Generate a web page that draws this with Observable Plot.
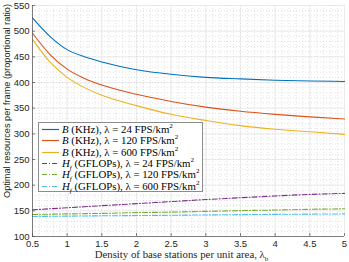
<!DOCTYPE html>
<html><head><meta charset="utf-8">
<script src="https://cdn.jsdelivr.net/npm/d3@7"></script>
<script src="https://cdn.jsdelivr.net/npm/@observablehq/plot@0.6"></script>
<style>
body{margin:0;background:#fff}
#wrap{position:relative;width:349px;height:262px;overflow:hidden}
#leg{position:absolute;left:38px;top:122px;width:165px;height:70px;border:1px solid #8c8c8c;background:#fff;box-sizing:border-box;font-family:"Liberation Serif",serif;font-size:10.8px;color:#000}
.row{position:absolute;left:0;height:11px;line-height:11px;white-space:nowrap}
.row svg{position:absolute;left:2px;top:0}
.row span.t{position:absolute;left:23px;top:0}
sup,sub{line-height:0;font-size:7px}
#xlab{position:absolute;left:0;width:349px;top:248px;line-height:13px;text-align:center;font-family:"Liberation Serif",serif;font-size:10.8px;color:#262626;padding-left:14px;box-sizing:border-box;white-space:nowrap}
</style></head>
<body><div id="wrap"></div>
<script>
const xs = [0.5, 0.75, 1, 1.25, 1.5, 2, 2.5, 3, 3.5, 4, 4.5, 5];
const bandwidth24  = [526, 490, 464, 450, 440, 425, 416, 410, 407, 404.5, 403, 402];
const bandwidth120 = [496, 455, 426, 408, 395, 377, 363, 352, 344, 338, 333, 329];
const bandwidth600 = [484, 440, 410, 390, 375, 355, 338, 326, 316, 309, 304, 299];
const compute24  = [152, 154, 156, 158, 160, 164, 168, 172, 175.5, 179, 182, 184];
const compute120 = [143, 143.5, 144, 144.5, 145, 146.5, 147.5, 149, 150.5, 151.5, 153, 154];
const compute600 = [139, 139.3, 139.6, 140, 140.3, 140.8, 141.4, 142, 142.6, 143.1, 143.6, 144];
const xTicks = [0.5, 1, 1.5, 2, 2.5, 3, 3.5, 4, 4.5, 5];
const yTicks = [100, 150, 200, 250, 300, 350, 400, 450, 500, 550];
const seriesColors = ["#0072BD", "#D95319", "#EDB120", "#7E2F8E", "#77AC30", "#4DBEEE"];
const seriesDash = [null, null, null, "5,2,1,2", "5,2,1,2", "5,2,1,2"];
const legendLabels = [
  '<i>B</i> (KHz), λ = 24 FPS/km<sup>2</sup>',
  '<i>B</i> (KHz), λ = 120 FPS/km<sup>2</sup>',
  '<i>B</i> (KHz), λ = 600 FPS/km<sup>2</sup>',
  '<i>H<sub>f</sub></i> (GFLOPs), λ = 24 FPS/km<sup>2</sup>',
  '<i>H<sub>f</sub></i> (GFLOPs), λ = 120 FPS/km<sup>2</sup>',
  '<i>H<sub>f</sub></i> (GFLOPs), λ = 600 FPS/km<sup>2</sup>'
];
const yLabel = "Optimal resources per frame (proportional ratio)";
const xLabelHtml = 'Density of base stations per unit area, λ<sub>b</sub>';
const allValues = [bandwidth24, bandwidth120, bandwidth600, compute24, compute120, compute600];

const W = 349, H = 262, mL = 32, mR = 5, mT = 5, mB = 26;
const xMinor = d3.range(0.5, 5.001, 0.1);
const yMinor = d3.range(100, 550.1, 10);

const lineMarks = allValues.map((vals, i) =>
  Plot.line(xs.map((x, j) => ({x, y: vals[j]})), {
    x: "x", y: "y", stroke: seriesColors[i], strokeWidth: 1.1,
    strokeDasharray: seriesDash[i], curve: "monotone-x"
  }));

const chart = Plot.plot({
  width: W, height: H,
  marginLeft: mL, marginRight: mR, marginTop: mT, marginBottom: mB,
  style: {fontFamily: "Liberation Sans, Arial, sans-serif", fontSize: "9.5px", color: "#262626", background: "#fff"},
  x: {domain: [0.5, 5]},
  y: {domain: [100, 550]},
  marks: [
    Plot.ruleX(xMinor, {stroke: "#cfcfcf", strokeDasharray: "1,2", strokeWidth: 0.6}),
    Plot.ruleY(yMinor, {stroke: "#cfcfcf", strokeDasharray: "1,2", strokeWidth: 0.6}),
    Plot.ruleX(xTicks, {stroke: "#e3e3e3", strokeWidth: 0.6}),
    Plot.ruleY(yTicks, {stroke: "#e3e3e3", strokeWidth: 0.6}),
    ...lineMarks,
    Plot.ruleX([0.5], {stroke: "#4d4d4d", strokeWidth: 0.7}),
    Plot.ruleY([100], {stroke: "#4d4d4d", strokeWidth: 0.7}),
    Plot.ruleX(xTicks, {stroke: "#4d4d4d", strokeWidth: 0.7, insetTop: H - mT - mB - 3}),
    Plot.ruleY(yTicks, {stroke: "#4d4d4d", strokeWidth: 0.7, insetRight: W - mL - mR - 3}),
    Plot.axisX({ticks: xTicks, tickSize: 0, tickPadding: 3.5, label: null, tickFormat: d => String(d)}),
    Plot.axisY({ticks: yTicks, tickSize: 0, tickPadding: 3, label: null}),
    Plot.text([yLabel], {
      frameAnchor: "left", textAnchor: "middle", rotate: -90, dx: -25, dy: -20,
      fontSize: 9.2, fill: "#262626"
    })
  ]
});
const wrap = document.getElementById("wrap");
wrap.appendChild(chart);

const leg = document.createElement("div");
leg.id = "leg";
legendLabels.forEach((lab, i) => {
  const row = document.createElement("div");
  row.className = "row";
  row.style.top = (1 + i * 11.3) + "px";
  const dash = seriesDash[i] ? ` stroke-dasharray="${seriesDash[i]}"` : "";
  row.innerHTML = `<svg width="18" height="11"><line x1="1" x2="18" y1="5.5" y2="5.5" stroke="${seriesColors[i]}" stroke-width="1.2"${dash}/></svg><span class="t">${lab}</span>`;
  leg.appendChild(row);
});
wrap.appendChild(leg);

const xl = document.createElement("div");
xl.id = "xlab";
xl.innerHTML = xLabelHtml;
wrap.appendChild(xl);
</script>
</body></html>
